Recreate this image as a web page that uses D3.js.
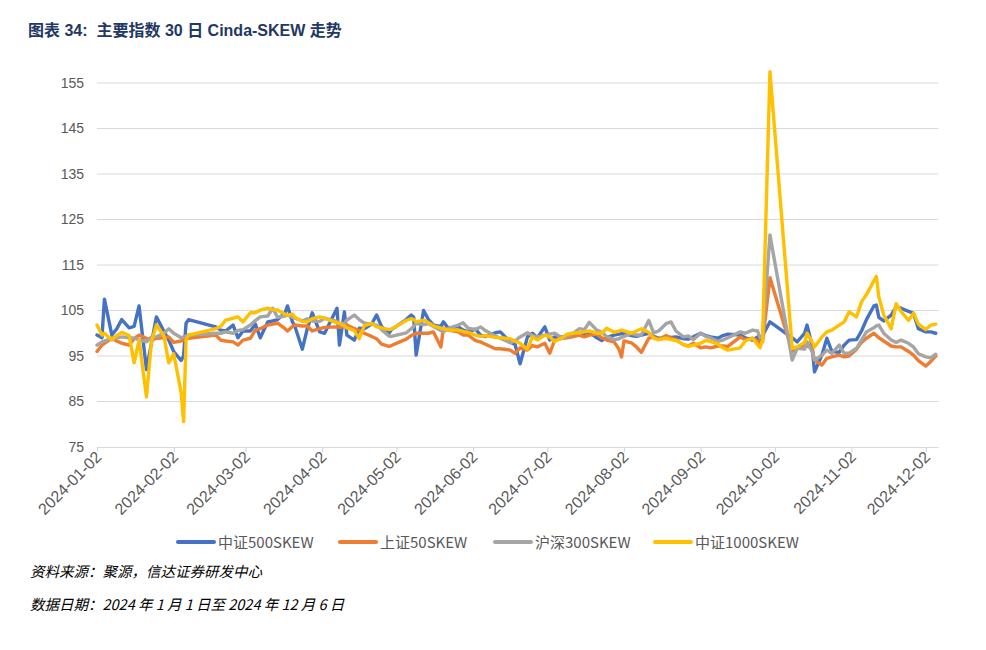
<!DOCTYPE html>
<html><head><meta charset="utf-8">
<script src="https://cdn.jsdelivr.net/npm/d3@7"></script>
<style>body{margin:0;background:#fff}svg{display:block}</style>
</head><body><svg id="c" width="986" height="650"></svg>
<script>
const dates = ["2024-01-02","2024-01-04","2024-01-05","2024-01-08","2024-01-10","2024-01-12","2024-01-15","2024-01-17","2024-01-19","2024-01-22","2024-01-24","2024-01-26","2024-01-29","2024-01-31","2024-02-02","2024-02-05","2024-02-06","2024-02-07","2024-02-08","2024-02-19","2024-02-21","2024-02-23","2024-02-26","2024-02-28","2024-03-01","2024-03-04","2024-03-06","2024-03-08","2024-03-11","2024-03-13","2024-03-15","2024-03-18","2024-03-19","2024-03-21","2024-03-22","2024-03-25","2024-03-27","2024-03-29","2024-04-01","2024-04-03","2024-04-08","2024-04-09","2024-04-11","2024-04-12","2024-04-15","2024-04-17","2024-04-19","2024-04-22","2024-04-24","2024-04-26","2024-04-29","2024-04-30","2024-05-06","2024-05-08","2024-05-09","2024-05-10","2024-05-13","2024-05-15","2024-05-17","2024-05-20","2024-05-21","2024-05-23","2024-05-27","2024-05-29","2024-05-31","2024-06-03","2024-06-05","2024-06-07","2024-06-11","2024-06-13","2024-06-17","2024-06-19","2024-06-21","2024-06-24","2024-06-26","2024-06-28","2024-07-01","2024-07-03","2024-07-05","2024-07-08","2024-07-10","2024-07-12","2024-07-15","2024-07-17","2024-07-19","2024-07-22","2024-07-24","2024-07-26","2024-07-29","2024-07-31","2024-08-01","2024-08-02","2024-08-05","2024-08-07","2024-08-09","2024-08-12","2024-08-14","2024-08-16","2024-08-19","2024-08-21","2024-08-23","2024-08-26","2024-08-28","2024-08-30","2024-09-02","2024-09-04","2024-09-06","2024-09-09","2024-09-11","2024-09-13","2024-09-18","2024-09-20","2024-09-23","2024-09-25","2024-09-26","2024-09-27","2024-09-30","2024-10-09","2024-10-11","2024-10-14","2024-10-15","2024-10-17","2024-10-18","2024-10-21","2024-10-23","2024-10-25","2024-10-28","2024-10-30","2024-11-01","2024-11-04","2024-11-06","2024-11-08","2024-11-11","2024-11-12","2024-11-13","2024-11-15","2024-11-18","2024-11-20","2024-11-22","2024-11-25","2024-11-27","2024-11-29","2024-12-02","2024-12-04","2024-12-06"];

const csi500 = [99.6,99.0,107.5,99.6,101.0,103.0,101.2,101.5,106.0,92.0,97.8,103.6,100.5,98.5,96.0,94.0,95.0,102.2,103.0,101.4,100.7,100.5,101.8,99.0,100.5,100.5,102.0,99.0,102.5,102.7,103.0,104.5,106.0,102.5,101.5,96.5,101.0,104.5,100.3,100.0,105.5,97.4,104.7,99.6,98.5,101.1,101.0,102.0,104.0,101.5,100.0,100.8,103.0,104.0,103.5,95.2,105.0,103.0,101.8,101.5,102.5,101.1,101.4,100.7,100.3,100.9,99.6,99.3,100.1,100.3,98.1,97.5,93.3,99.2,100.0,99.0,101.4,98.5,99.2,99.2,99.4,99.6,99.8,100.0,100.2,99.0,98.4,99.1,99.6,99.8,99.9,100.0,99.5,99.3,99.6,100.0,99.3,98.9,98.9,99.1,99.2,98.8,98.7,99.2,100.0,99.5,99.2,98.9,99.5,99.8,99.6,99.0,98.5,99.2,98.0,99.5,102.5,99.0,98.1,100.0,101.8,97.4,91.5,95.2,98.9,96.0,95.8,97.4,98.5,98.6,100.5,103.0,106.0,106.2,103.5,102.7,104.0,105.8,105.5,104.8,104.4,101.0,100.3,100.3,100.0];

const sse50 = [96.0,97.4,97.8,98.9,98.3,97.8,97.4,98.8,99.6,98.9,98.5,98.9,99.0,99.2,98.0,98.3,98.5,98.9,98.9,99.6,98.5,98.3,98.1,97.4,98.5,98.9,100.7,101.0,101.8,102.0,102.2,101.0,100.5,101.5,101.8,101.6,101.6,100.5,101.0,101.3,101.4,101.3,101.5,101.8,101.0,100.6,100.0,99.3,98.8,97.6,97.1,97.3,98.7,99.5,99.7,100.0,100.0,100.0,100.3,97.0,101.1,100.7,100.3,99.6,99.6,98.4,98.1,97.6,96.6,96.6,96.3,95.6,96.8,96.3,97.3,97.0,97.8,95.6,98.5,98.9,99.0,99.2,99.6,99.2,99.6,99.8,99.0,98.5,98.1,96.5,94.8,98.3,97.9,97.0,95.8,98.9,99.2,98.6,99.5,99.0,98.6,97.5,97.2,97.8,96.8,97.0,96.8,97.2,97.2,97.1,99.2,98.6,98.9,98.3,98.0,98.1,112.2,96.0,96.7,97.4,97.2,96.7,94.1,93.0,94.5,94.8,95.2,94.8,95.0,96.5,98.0,98.9,100.0,99.5,99.0,98.3,97.2,97.0,97.0,96.0,95.2,94.0,92.8,93.8,95.0];

const hs300 = [97.4,98.1,98.3,98.9,99.0,99.2,99.0,98.9,98.6,98.1,99.2,99.2,100.0,101.0,100.0,99.0,99.2,99.4,99.6,100.0,100.0,100.3,100.0,100.6,100.8,101.8,102.8,103.6,103.8,105.5,103.5,103.8,104.0,103.5,103.3,102.7,103.2,102.7,102.6,103.3,102.6,102.0,102.2,102.9,104.0,103.0,102.2,102.0,101.8,100.8,99.4,99.3,100.1,101.0,101.5,102.2,101.9,102.1,101.5,100.6,100.3,101.1,101.8,102.3,101.1,100.8,101.4,100.6,99.4,98.9,97.9,98.3,99.2,100.1,99.5,99.2,99.6,99.8,100.0,98.9,99.3,99.8,101.0,100.8,102.4,100.7,100.2,99.3,98.6,98.8,99.1,99.3,100.0,99.6,99.6,102.8,100.1,100.5,102.1,102.5,100.5,99.2,99.4,98.6,100.0,99.3,99.0,98.2,98.5,99.0,100.3,100.0,100.7,100.5,99.0,99.2,121.6,94.1,96.7,96.5,98.1,96.0,94.1,95.2,96.3,95.6,97.4,95.6,95.6,96.7,98.5,100.3,101.2,101.6,101.8,100.0,98.5,98.0,98.5,97.8,97.0,95.5,94.8,94.6,95.4];

const csi1000 = [101.8,99.6,100.0,98.5,99.5,100.2,99.5,93.5,98.5,86.0,98.1,101.8,99.5,93.5,95.5,87.0,80.6,98.5,99.6,101.0,101.5,102.9,103.3,103.6,102.5,104.5,104.5,105.1,105.5,105.2,105.1,104.2,104.0,104.2,103.5,102.6,102.5,103.2,103.6,103.3,102.3,102.2,101.6,101.2,100.6,98.8,101.6,102.2,101.4,101.2,100.8,100.9,102.8,103.2,103.0,102.5,102.9,102.3,101.6,101.1,101.0,100.7,100.7,100.4,100.2,99.6,99.3,99.5,99.1,99.0,98.8,98.3,97.8,96.5,99.2,98.5,99.6,99.2,98.2,99.0,99.8,100.0,100.1,100.3,100.5,100.0,100.0,101.1,100.2,100.5,100.7,100.5,100.0,100.5,101.0,100.2,98.9,98.6,98.9,98.6,98.4,97.6,97.1,97.4,97.8,98.4,98.2,97.6,96.8,96.3,96.8,98.3,98.9,97.5,96.8,98.5,157.5,96.7,97.0,98.0,100.0,98.1,97.0,99.2,100.3,100.7,101.8,102.5,104.7,103.6,106.9,108.5,111.5,112.5,108.0,104.0,101.0,106.5,104.8,102.8,104.4,102.0,100.8,101.8,102.0];

const seriesNames = ["中证500SKEW","上证50SKEW","沪深300SKEW","中证1000SKEW"];
const seriesColors = ["#4472C4","#ED7D31","#A5A5A5","#FFC000"];
const yTicks = [75,85,95,105,115,125,135,145,155];
const xTickLabels = ["2024-01-02","2024-02-02","2024-03-02","2024-04-02","2024-05-02","2024-06-02","2024-07-02","2024-08-02","2024-09-02","2024-10-02","2024-11-02","2024-12-02"];
const titleText = "图表 34:\u00A0\u00A0主要指数 30 日 Cinda-SKEW 走势";
const sourceText = "资料来源：聚源，信达证券研发中心";
const dateText = "数据日期：2024 年 1 月 1 日至 2024 年 12 月 6 日";

const parse = d3.utcParse("%Y-%m-%d");
const svg = d3.select("#c");
const L = 97, R = 938.2, T = 83, B = 447;

const x = d3.scaleUtc().domain([parse("2024-01-02"), parse("2024-12-07")]).range([L, R]);
const y = d3.scaleLinear().domain([75, 155]).range([B, T]);

// gridlines
svg.append("g").selectAll("line").data(yTicks.filter(v => v !== 75)).join("line")
  .attr("x1", L).attr("x2", R).attr("y1", d => y(d)).attr("y2", d => y(d))
  .attr("stroke", "#d9d9d9").attr("stroke-width", 1);

// y axis labels
const yAxis = d3.axisLeft(y).tickValues(yTicks).tickSize(0).tickPadding(13);
const gy = svg.append("g").attr("transform", `translate(${L},0)`).call(yAxis);
gy.select(".domain").remove();
gy.selectAll("text").attr("font-family", "'Liberation Sans', Arial, sans-serif")
  .attr("font-size", 14).attr("fill", "#595959");

// x axis
const xAxis = d3.axisBottom(x).tickValues(xTickLabels.map(parse))
  .tickFormat(d3.utcFormat("%Y-%m-%d")).tickSize(5).tickSizeOuter(0);
const gx = svg.append("g").attr("transform", `translate(0,${B})`).call(xAxis);
gx.select(".domain").attr("stroke", "#d9d9d9").attr("stroke-width", 1.2);
gx.selectAll(".tick line").attr("stroke", "#d9d9d9").attr("stroke-width", 1.2);
gx.selectAll("text").attr("font-family", "'Liberation Sans', Arial, sans-serif")
  .attr("font-size", 16).attr("fill", "#595959")
  .attr("text-anchor", "end").attr("dy", null).attr("y", 0)
  .attr("transform", "translate(5,11) rotate(-45)");

// lines
const series = [csi500, sse50, hs300, csi1000];
const line = d3.line().x((d, i) => x(parse(dates[i]))).y(d => y(d));
series.forEach((s, k) => {
  svg.append("path").datum(s).attr("d", line)
    .attr("fill", "none").attr("stroke", seriesColors[k]).attr("stroke-width", 3.4)
    .attr("stroke-linejoin", "round").attr("stroke-linecap", "round");
});

// legend
const legX = [178, 340, 495, 655];
const leg = svg.append("g");
seriesNames.forEach((n, k) => {
  leg.append("line").attr("x1", legX[k]).attr("x2", legX[k] + 36)
    .attr("y1", 542).attr("y2", 542).attr("stroke", seriesColors[k])
    .attr("stroke-width", 4).attr("stroke-linecap", "round");
  leg.append("text").attr("x", legX[k] + 40).attr("y", 548).text(n)
    .attr("font-family", "'Noto Sans CJK SC', sans-serif").attr("font-size", 15)
    .attr("fill", "#595959");
});

// title
svg.append("text").attr("x", 28).attr("y", 36).text(titleText)
  .attr("font-family", "'Liberation Sans', 'Noto Sans CJK SC', sans-serif").attr("font-weight", "bold")
  .attr("font-size", 16).attr("fill", "#1F3864");

// footnotes
svg.append("text").attr("x", 30).attr("y", 577).text(sourceText)
  .attr("font-family", "'Noto Sans CJK SC', sans-serif").attr("font-size", 14.5)
  .attr("font-style", "italic").attr("fill", "#000");
svg.append("text").attr("x", 30).attr("y", 610).text(dateText)
  .attr("font-family", "'Noto Sans CJK SC', sans-serif").attr("font-size", 14.5)
  .attr("font-style", "italic").attr("fill", "#000");
</script></body></html>
